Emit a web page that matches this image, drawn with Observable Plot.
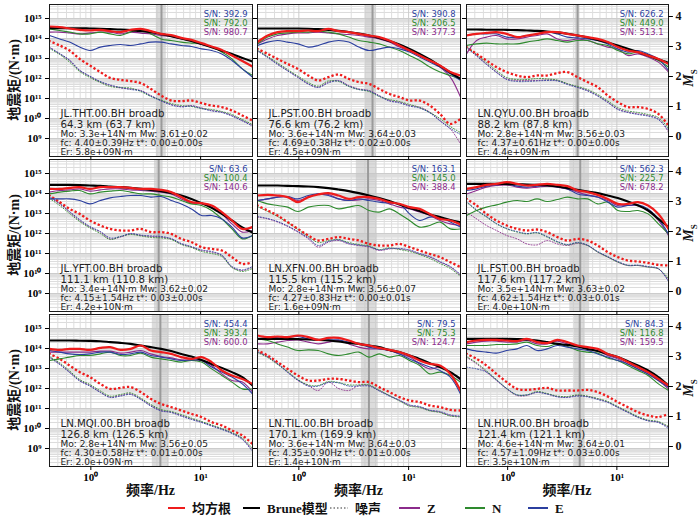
<!DOCTYPE html>
<html><head><meta charset="utf-8">
<script src="https://cdn.jsdelivr.net/npm/d3@7"></script>
<script src="https://cdn.jsdelivr.net/npm/@observablehq/plot@0.6"></script>
<style>
html,body{margin:0;padding:0;background:#fff;}
#chart{position:relative;width:700px;height:518px;overflow:hidden;font-family:"DejaVu Sans";}
#chart svg{position:absolute;}
.lab{position:absolute;font-family:"Liberation Serif","Noto Sans CJK SC";font-weight:bold;font-size:13px;color:#111;white-space:nowrap;}
</style></head><body><div id="chart"></div><script>
// ---------- data ----------
const freqs = [0.42,0.52,0.64,0.79,0.98,1.22,1.5,1.86,2.3,2.85,3.52,4.36,5.39,6.67,8.25,10.2,12.6,15.6,19.3,24.0,29.7];

const stations = ["JL.THT.00.BH broadb","JL.PST.00.BH broadb","LN.QYU.00.BH broadb","JL.YFT.00.BH broadb","LN.XFN.00.BH broadb","JL.FST.00.BH broadb","LN.MQI.00.BH broadb","LN.TIL.00.BH broadb","LN.HUR.00.BH broadb"];
const distances = ["64.3 km (63.7 km)","76.6 km (76.2 km)","88.2 km (87.8 km)","111.1 km (110.8 km)","115.5 km (115.2 km)","117.6 km (117.2 km)","126.8 km (126.5 km)","170.1 km (169.9 km)","121.4 km (121.1 km)"];
const moText = ["Mo: 3.3e+14N·m Mw: 3.61±0.02","Mo: 3.6e+14N·m Mw: 3.64±0.03","Mo: 2.8e+14N·m Mw: 3.56±0.03","Mo: 3.4e+14N·m Mw: 3.62±0.02","Mo: 2.8e+14N·m Mw: 3.56±0.07","Mo: 3.5e+14N·m Mw: 3.63±0.02","Mo: 2.8e+14N·m Mw: 3.56±0.05","Mo: 3.6e+14N·m Mw: 3.64±0.03","Mo: 4.6e+14N·m Mw: 3.64±0.01"];
const fcText = ["fc: 4.40±0.39Hz t*: 0.00±0.00s","fc: 4.69±0.38Hz t*: 0.02±0.00s","fc: 4.37±0.61Hz t*: 0.00±0.00s","fc: 4.15±1.54Hz t*: 0.03±0.00s","fc: 4.27±0.83Hz t*: 0.00±0.01s","fc: 4.62±1.54Hz t*: 0.03±0.01s","fc: 4.30±0.58Hz t*: 0.01±0.00s","fc: 4.35±0.90Hz t*: 0.01±0.00s","fc: 4.57±1.09Hz t*: 0.03±0.00s"];
const erText = ["Er: 5.8e+09N·m","Er: 4.5e+09N·m","Er: 4.4e+09N·m","Er: 4.2e+10N·m","Er: 1.6e+09N·m","Er: 4.0e+10N·m","Er: 2.0e+09N·m","Er: 1.4e+10N·m","Er: 3.5e+10N·m"];
const snE = ["392.9","390.8","626.2","63.6","163.1","562.3","454.4","79.5","84.3"];
const snN = ["792.0","206.5","449.0","100.4","145.0","225.7","393.4","75.3","116.8"];
const snZ = ["980.7","377.3","513.1","140.6","388.4","678.2","600.0","124.7","159.5"];
const fcValues = [4.40,4.69,4.37,4.15,4.27,4.62,4.30,4.35,4.57];
const bandLo = [3.95,4.03,4.15,3.8,3.34,3.71,3.63,3.71,4.1];
const bandHi = [4.87,5.07,4.6,4.55,5.18,5.63,5.18,5.29,5.1];

// log10 of seismic moment (N·m), one row per panel
const rmsLog = [
[14.6,14.57,14.5,14.43,14.4,14.43,14.37,14.32,14.43,14.48,14.37,14.23,14.17,14.03,13.93,13.77,13.6,13.43,13.15,12.87,12.6],
[13.82,14.15,14.32,14.37,14.37,14.4,14.37,14.48,14.37,14.32,14.23,14.15,14.07,13.9,13.65,13.4,13.15,12.9,12.65,12.32,12.15],
[14.15,14.23,14.28,14.32,14.23,14.07,14.15,14.23,14.32,14.32,14.23,14.15,14.07,13.98,13.82,13.57,13.4,13.32,13.15,12.98,12.73],
[14.23,14.23,14.28,14.32,14.23,14.32,14.32,14.32,14.28,14.23,14.23,14.18,14.07,13.82,13.57,13.52,13.4,13.07,12.65,12.23,12.32],
[13.9,13.93,13.9,13.82,13.57,13.82,13.95,14.02,13.9,13.73,13.82,13.82,13.73,13.57,13.48,13.32,13.23,12.98,12.73,12.65,12.45],
[14.23,14.32,14.43,14.48,14.57,14.48,14.4,14.43,14.48,14.43,14.37,14.15,14.07,13.93,13.73,13.48,13.48,13.57,13.4,12.98,12.23],
[13.98,13.93,13.98,13.98,13.93,14.03,14.07,13.93,13.98,14.15,13.9,13.82,13.73,13.57,13.48,13.57,13.32,12.9,12.65,12.48,12.23],
[14.65,14.57,14.6,14.57,14.65,14.57,14.43,14.53,14.53,14.4,14.23,14.15,14.03,13.93,13.82,13.65,13.4,13.23,13.15,12.73,11.9],
[14.32,14.4,14.43,14.43,14.4,14.37,14.48,14.32,14.27,14.43,14.32,14.15,14.07,13.98,13.73,13.57,13.32,13.07,12.82,12.48,12.15]];
const zLog = [
[14.32,14.32,14.28,14.23,14.28,14.32,14.32,14.23,14.32,14.27,14.23,14.15,14.1,13.98,13.87,13.7,13.57,13.4,13.15,12.9,12.57],
[13.73,13.98,14.15,14.23,14.28,14.28,14.32,14.28,14.23,14.2,14.15,14.07,13.98,13.82,13.57,13.37,13.15,12.9,12.57,12.07,11.07],
[13.23,13.9,14.07,14.15,13.98,13.98,14.07,14.15,14.23,13.98,13.9,13.98,13.9,13.73,13.57,13.48,13.15,13.23,13.07,12.82,12.32],
[14.07,14.15,14.18,14.23,14.12,14.18,14.23,14.23,14.18,14.15,14.12,14.07,13.98,13.73,13.52,13.48,13.32,12.98,12.48,12.07,12.15],
[13.65,13.73,13.82,13.82,13.65,13.82,13.98,13.95,13.73,13.65,13.68,13.73,13.65,13.48,13.32,13.23,13.07,12.9,12.65,12.48,12.4],
[13.98,14.15,14.32,14.4,14.43,14.32,14.27,14.32,14.37,14.32,14.23,14.07,13.93,13.82,13.65,13.4,13.4,13.4,13.15,12.65,11.9],
[13.82,13.82,13.82,13.82,13.82,13.87,13.87,13.77,13.82,13.9,13.73,13.6,13.53,13.43,13.4,13.4,13.15,12.73,12.4,12.32,11.82],
[14.23,14.23,14.32,14.4,14.43,14.32,14.23,14.32,14.4,14.23,14.07,13.98,13.98,13.9,13.73,13.57,13.23,12.98,13.07,12.82,12.4],
[14.23,14.32,14.37,14.37,14.32,14.32,14.4,14.23,14.23,14.37,14.23,14.1,13.98,13.87,13.65,13.48,13.23,12.98,12.73,12.4,11.98]];
const nLog = [
[14.48,14.4,14.32,14.23,14.23,14.32,14.23,14.15,14.32,14.43,14.23,13.98,13.9,13.82,13.77,13.73,13.57,13.32,12.98,12.48,12.15],
[13.73,14.07,14.23,14.28,14.32,14.32,14.37,14.32,14.23,14.07,13.9,13.82,13.73,13.57,13.4,13.15,12.9,12.57,12.32,12.15,11.98],
[13.65,13.73,13.77,13.73,13.73,13.73,13.82,13.9,13.98,13.9,13.82,13.9,13.9,13.73,13.65,13.4,13.23,13.32,13.15,12.9,12.57],
[13.98,14.07,14.12,14.15,13.98,14.07,14.12,14.15,14.07,13.98,13.98,13.9,13.82,13.65,13.48,13.4,13.15,12.73,12.23,11.73,11.9],
[13.65,13.48,13.4,13.32,13.1,13.32,13.4,13.4,13.23,13.32,13.4,13.15,13.07,13.23,12.98,12.65,12.32,12.4,12.57,12.23,12.23],
[12.9,13.15,13.32,13.43,13.57,13.65,13.6,13.73,13.6,13.7,13.82,13.73,13.73,13.48,13.57,13.15,13.1,13.15,12.98,12.48,11.98],
[13.4,13.48,13.57,13.65,13.65,13.73,13.82,13.65,13.65,13.77,13.57,13.48,13.4,13.32,13.4,13.32,12.98,12.65,12.32,11.98,11.98],
[14.48,14.4,14.23,14.07,13.9,13.93,13.9,13.73,13.65,13.73,13.82,13.57,13.73,13.57,13.65,13.4,13.15,12.73,12.82,12.65,12.32],
[14.15,14.15,14.15,14.2,14.2,14.23,14.32,14.15,14.1,14.23,14.1,13.9,13.82,13.77,13.53,13.4,13.15,12.9,12.65,12.23,11.9]];
const eLog = [
[14.15,13.98,13.82,13.57,13.4,13.57,13.65,13.7,13.65,13.73,13.82,13.82,13.73,13.65,13.6,13.48,13.4,13.23,12.9,12.48,12.07],
[13.65,13.82,13.9,13.82,13.73,13.57,13.65,13.82,13.9,13.82,13.57,13.4,13.48,13.57,13.48,13.32,13.07,12.82,12.57,12.23,11.9],
[14.15,14.23,14.23,14.23,14.07,14.07,14.15,14.23,14.32,14.23,14.07,14.03,13.98,13.9,13.73,13.48,13.32,13.4,13.23,12.98,12.4],
[13.73,13.73,13.73,13.65,13.48,13.65,13.78,13.85,13.9,13.9,13.82,13.85,13.65,13.48,13.23,12.9,12.9,12.73,12.32,11.78,11.9],
[13.65,13.73,13.82,13.85,13.73,13.9,13.98,13.9,13.73,13.65,13.73,13.65,13.57,13.52,13.48,12.98,12.65,12.82,12.82,12.57,12.32],
[14.15,14.23,14.37,14.43,14.48,14.37,14.32,14.37,14.4,14.32,14.23,13.98,13.9,13.82,13.57,13.32,13.4,13.43,13.23,12.73,11.98],
[13.9,13.82,13.73,13.7,13.73,13.82,13.82,13.7,13.73,13.82,13.65,13.57,13.48,13.4,13.43,13.4,13.07,12.82,12.57,12.23,11.73],
[14.48,14.53,14.57,14.57,14.6,14.48,14.4,14.43,14.43,14.32,14.23,14.07,13.98,13.9,13.73,13.48,13.27,13.07,12.9,12.57,11.73],
[13.98,13.87,13.82,13.77,13.9,13.98,14.15,13.9,13.98,14.15,14.07,13.98,13.9,13.73,13.57,13.4,13.23,12.98,12.73,12.4,12.07]];
const bruneLog = [
[14.52,14.51,14.51,14.51,14.5,14.49,14.47,14.45,14.42,14.37,14.31,14.22,14.12,14.0,13.87,13.72,13.56,13.39,13.22,13.03,12.85],
[14.5,14.5,14.5,14.5,14.5,14.49,14.47,14.43,14.38,14.32,14.25,14.15,14.03,13.88,13.7,13.48,13.23,12.95,12.63,12.3,11.98],
[14.45,14.45,14.44,14.44,14.43,14.42,14.4,14.38,14.35,14.3,14.24,14.15,14.05,13.93,13.8,13.65,13.49,13.32,13.15,12.96,12.78],
[14.43,14.43,14.43,14.42,14.4,14.38,14.35,14.32,14.28,14.23,14.18,14.12,14.02,13.9,13.73,13.52,13.28,12.98,12.65,12.3,12.05],
[14.4,14.4,14.4,14.38,14.37,14.35,14.32,14.27,14.2,14.12,14.02,13.9,13.77,13.62,13.45,13.28,13.12,12.95,12.82,12.68,12.57],
[14.48,14.48,14.48,14.48,14.47,14.46,14.45,14.43,14.4,14.35,14.27,14.18,14.1,14.02,13.9,13.77,13.6,13.4,13.15,12.73,12.32],
[14.4,14.4,14.4,14.39,14.38,14.36,14.32,14.28,14.23,14.15,14.07,13.98,13.87,13.73,13.6,13.43,13.23,13.03,12.82,12.57,12.15],
[14.48,14.48,14.48,14.48,14.47,14.45,14.43,14.4,14.35,14.28,14.23,14.15,14.07,13.93,13.82,13.65,13.48,13.27,13.07,12.82,12.48],
[14.48,14.48,14.48,14.48,14.48,14.47,14.45,14.4,14.32,14.23,14.18,14.1,13.98,13.87,13.73,13.57,13.37,13.15,12.9,12.57,12.15]];
const noiseRmsLog = [
[13.87,13.65,13.4,12.98,12.65,12.32,12.03,11.93,11.87,11.77,11.48,11.15,10.9,10.87,10.9,10.77,10.65,10.57,10.4,10.15,9.9],
[13.48,13.23,12.98,12.73,12.48,12.15,11.9,12.07,12.2,11.98,11.82,11.73,11.48,11.23,11.07,10.9,10.9,10.65,10.23,9.73,9.98],
[13.57,13.23,12.9,12.57,12.32,12.15,12.07,12.15,12.15,12.27,12.32,12.07,11.82,11.57,11.15,10.82,10.57,10.57,10.48,10.23,9.65],
[13.9,13.57,13.23,12.98,12.65,12.4,12.23,12.15,12.15,12.23,12.07,12.07,11.98,11.73,11.57,11.32,11.23,11.15,10.82,10.48,10.57],
[13.4,13.15,12.9,12.57,12.23,11.9,11.65,11.73,11.82,11.73,11.65,11.48,11.4,11.4,11.48,11.32,11.15,10.98,10.82,10.57,10.32],
[13.73,13.4,12.98,12.65,12.4,12.23,12.15,12.2,12.07,11.82,11.65,11.73,11.65,11.4,11.07,10.82,10.65,10.6,10.53,10.43,10.4],
[13.73,13.48,13.15,12.82,12.57,12.23,11.98,12.03,12.07,11.82,11.48,11.23,11.07,10.9,10.73,10.57,10.32,10.15,9.9,9.65,9.23],
[13.9,13.65,13.32,12.98,12.65,12.4,12.4,12.48,12.48,12.4,12.32,12.32,12.07,11.82,11.57,11.4,11.32,11.15,11.07,10.93,10.9],
[13.73,13.48,13.15,12.73,12.32,11.98,11.93,11.98,12.03,11.9,11.9,11.9,11.93,11.82,11.6,11.32,11.07,10.82,10.65,10.57,10.73]];
const noiseZLog = [
[13.57,13.23,12.9,12.4,12.1,11.82,11.65,11.53,11.48,11.4,11.15,10.9,10.7,10.6,10.65,10.53,10.4,10.32,10.15,9.9,9.65],
[13.4,13.07,12.73,12.4,12.07,11.73,11.57,11.82,11.9,11.65,11.48,11.4,11.15,10.9,10.82,10.65,10.57,10.32,9.9,9.48,8.73],
[13.57,13.15,12.73,12.32,11.98,11.9,11.9,11.9,11.93,11.9,11.73,11.57,11.4,11.15,10.82,10.48,10.32,10.23,10.15,9.98,9.32],
[13.82,13.48,13.07,12.65,12.32,12.07,11.73,11.82,11.98,11.9,11.85,11.82,11.73,11.48,11.32,11.15,11.07,10.9,10.32,10.15,10.32],
[12.82,12.73,12.57,12.35,12.07,11.73,11.32,11.57,11.65,11.48,11.4,11.32,11.15,11.23,11.23,11.15,10.98,10.82,10.57,10.32,9.9],
[13.07,12.73,12.4,12.15,11.9,11.73,11.48,11.43,11.65,11.48,11.4,11.5,11.4,11.07,10.82,10.57,10.4,10.4,10.32,10.23,9.65],
[13.57,13.23,12.82,12.4,12.15,11.82,11.57,11.65,11.73,11.48,11.15,10.9,10.82,10.65,10.48,10.32,10.15,9.98,9.77,9.48,8.9],
[13.82,13.57,13.23,12.82,12.4,12.15,11.9,12.32,12.0,11.9,12.15,12.15,11.9,11.65,11.4,11.15,11.07,10.9,10.82,10.65,10.6],
[13.57,13.23,12.82,12.4,11.98,11.65,11.65,11.82,11.73,11.6,11.57,11.65,11.6,11.48,11.32,11.07,10.82,10.57,10.4,10.32,10.07]];
const noiseNLog = [
[13.5,13.2,12.82,12.35,12.05,11.8,11.6,11.55,11.52,11.35,11.1,10.92,10.75,10.65,10.6,10.5,10.45,10.35,10.2,9.95,9.7],
[13.42,13.1,12.78,12.45,12.12,11.8,11.62,11.88,11.85,11.6,11.45,11.35,11.1,10.95,10.85,10.7,10.55,10.3,10.0,9.6,9.3],
[13.6,13.2,12.8,12.4,12.05,11.95,11.95,12.0,11.98,11.92,11.75,11.6,11.45,11.2,10.88,10.55,10.38,10.3,10.2,10.05,9.5],
[13.75,13.4,13.0,12.6,12.28,12.0,11.7,11.85,11.95,11.88,11.8,11.78,11.7,11.45,11.3,11.1,11.0,10.85,10.3,10.1,10.25],
[13.35,13.1,12.85,12.55,12.2,11.85,11.55,11.65,11.7,11.55,11.45,11.38,11.2,11.28,11.2,11.1,10.95,10.75,10.5,10.25,9.85],
[13.57,13.15,12.82,12.48,12.23,12.07,11.98,12.03,11.82,11.57,11.43,11.53,11.4,11.07,10.82,10.57,10.4,10.4,10.32,10.23,9.75],
[13.6,13.28,12.88,12.45,12.2,11.88,11.62,11.7,11.78,11.52,11.2,10.95,10.85,10.7,10.52,10.35,10.18,10.0,9.8,9.52,9.0],
[13.8,13.55,13.2,12.85,12.45,12.18,12.15,12.35,12.3,12.18,12.18,12.18,11.92,11.65,11.38,11.12,11.05,10.88,10.8,10.62,10.58],
[13.6,13.28,12.88,12.45,12.0,11.68,11.68,11.85,11.75,11.62,11.6,11.68,11.62,11.5,11.35,11.1,10.85,10.6,10.42,10.35,10.1]];
const noiseELog = [
[13.55,13.25,12.92,12.42,12.12,11.85,11.68,11.55,11.45,11.38,11.12,10.88,10.68,10.58,10.62,10.5,10.38,10.3,10.12,9.88,9.62],
[13.38,13.05,12.7,12.38,12.05,11.72,11.55,11.78,11.88,11.62,11.45,11.38,11.12,10.88,10.78,10.62,10.52,10.28,9.88,9.5,9.2],
[13.55,13.12,12.7,12.3,11.95,11.85,11.85,11.88,11.9,11.88,11.7,11.55,11.38,11.12,10.8,10.45,10.3,10.2,10.12,9.95,9.4],
[13.85,13.5,13.1,12.7,12.35,12.1,11.78,11.85,12.0,11.92,11.88,11.85,11.75,11.5,11.35,11.18,11.1,10.92,10.35,10.18,10.35],
[12.85,12.75,12.6,12.38,12.1,11.78,11.4,11.6,11.68,11.5,11.42,11.35,11.18,11.25,11.25,11.18,11.0,10.85,10.6,10.35,9.95],
[13.6,13.18,12.85,12.5,12.25,12.1,12.0,12.05,11.85,11.6,11.45,11.55,11.42,11.1,10.85,10.6,10.42,10.42,10.35,10.25,9.6],
[13.55,13.2,12.8,12.38,12.12,11.8,11.55,11.62,11.7,11.45,11.12,10.88,10.8,10.62,10.45,10.3,10.12,9.95,9.75,9.45,8.85],
[13.85,13.6,13.25,12.8,12.42,12.12,12.12,12.3,12.28,12.12,12.12,12.12,11.88,11.62,11.42,11.18,11.1,10.92,10.85,10.68,10.62],
[13.07,12.98,12.82,12.42,12.0,11.68,11.68,11.8,11.72,11.58,11.55,11.62,11.58,11.45,11.3,11.05,10.8,10.55,10.38,10.3,10.0]];

const msTicks = [0,1,2,3,4];
const legendLabels = ["均方根","Brune模型","噪声","Z","N","E"];

// ---------- styling / layout ----------
const cRms="#ee1c1c", cBrune="#000000", cZ="#8b2b8b", cN="#2e8a2e", cE="#2b3f9f";
const colLeft=[49,257,466], colWidth=[203,203,202], rowTop=[4,159,314], panelH=152;
const xDomain=[0.42,29.7], yDomain=[10**8.1,10**15.7];
const sup={"0":"⁰","1":"¹","2":"²","3":"³","4":"⁴","5":"⁵","6":"⁶","7":"⁷","8":"⁸","9":"⁹"};
const pow10 = d => "10" + String(Math.round(Math.log10(d))).split("").map(c=>sup[c]).join("");
const decadesY = d3.range(9,16).map(e=>10**e);
const minorY = d3.range(8,16).flatMap(e=>d3.range(2,10).map(k=>k*10**e)).filter(v=>v>yDomain[0]&&v<yDomain[1]);
const decadesX = [1,10];
const minorX = [0.5,0.6,0.7,0.8,0.9,2,3,4,5,6,7,8,9,20];
const msRows = msTicks.map(m=>({m, v:10**(1.5*m+9.1)}));
const tickShape = {draw(ctx, l){ ctx.moveTo(0,0); ctx.lineTo(0,-l); }};

const chart = document.getElementById("chart");
const series = (arr) => freqs.map((f,k)=>({f, m: 10**arr[k]}));

for (let i=0;i<9;i++){
  const r=Math.floor(i/3), c=i%3;
  const ml=50, mr=36, mt=6, mb=26;
  const W=colWidth[c];
  const lineOpts = (stroke, w, extra={}) => Object.assign({x:"f", y:"m", stroke, strokeWidth:w, curve:"catmull-rom", clip:true}, extra);
  const marks = [
    Plot.ruleY(minorY, {stroke:"#dcdcdc", strokeWidth:1}),
    Plot.ruleX(minorX, {stroke:"#dedede", strokeWidth:1}),
    Plot.ruleY(decadesY, {stroke:"#cccccc", strokeWidth:1}),
    Plot.ruleX(decadesX, {stroke:"#cccccc", strokeWidth:1}),
    Plot.rect([{lo:bandLo[i], hi:bandHi[i]}], {x1:"lo", x2:"hi", fill:"#c4c4c4", fillOpacity:0.6}),
    Plot.ruleX([fcValues[i]], {stroke:"#9b9b9b", strokeWidth:2}),
    Plot.line(series(noiseZLog[i]), lineOpts(cZ, 0.9, {strokeDasharray:"1,1.8"})),
    Plot.line(series(noiseNLog[i]), lineOpts(cN, 0.9, {strokeDasharray:"1,1.8"})),
    Plot.line(series(noiseELog[i]), lineOpts(cE, 0.9, {strokeDasharray:"1,1.8"})),
    Plot.line(series(noiseRmsLog[i]), lineOpts(cRms, 2.3, {strokeDasharray:"0.01,4.4", strokeLinecap:"square"})),
    Plot.line(series(zLog[i]), lineOpts(cZ, 1.1)),
    Plot.line(series(nLog[i]), lineOpts(cN, 1.1)),
    Plot.line(series(eLog[i]), lineOpts(cE, 1.1)),
    Plot.line(series(bruneLog[i]), lineOpts(cBrune, 2.1)),
    Plot.line(series(rmsLog[i]), lineOpts(cRms, 2.2)),
    Plot.text([stations[i]], {text:d=>d, frameAnchor:"bottom-left", dx:11, dy:-43, textAnchor:"start", lineAnchor:"middle", fontSize:10.2, fill:"#222"}),
    Plot.text([distances[i]], {text:d=>d, frameAnchor:"bottom-left", dx:11, dy:-32, textAnchor:"start", lineAnchor:"middle", fontSize:10.2, fill:"#222"}),
    Plot.text([moText[i]], {text:d=>d, frameAnchor:"bottom-left", dx:11, dy:-22, textAnchor:"start", lineAnchor:"middle", fontSize:9, fill:"#222"}),
    Plot.text([fcText[i]], {text:d=>d, frameAnchor:"bottom-left", dx:11, dy:-13, textAnchor:"start", lineAnchor:"middle", fontSize:9, fill:"#222"}),
    Plot.text([erText[i]], {text:d=>d, frameAnchor:"bottom-left", dx:11, dy:-4, textAnchor:"start", lineAnchor:"middle", fontSize:9, fill:"#222"}),
    Plot.text(["S/N: "+snE[i]], {text:d=>d, frameAnchor:"top-right", dx:-5, dy:10, textAnchor:"end", lineAnchor:"middle", fontSize:8.4, fill:cE}),
    Plot.text(["S/N: "+snN[i]], {text:d=>d, frameAnchor:"top-right", dx:-5, dy:19, textAnchor:"end", lineAnchor:"middle", fontSize:8.4, fill:cN}),
    Plot.text(["S/N: "+snZ[i]], {text:d=>d, frameAnchor:"top-right", dx:-5, dy:28, textAnchor:"end", lineAnchor:"middle", fontSize:8.4, fill:cZ}),
    Plot.frame({stroke:"#1a1a1a", strokeWidth:1}),
    Plot.axisY(decadesY, {anchor:"left", tickSize:4, tickPadding:4, label:null, tickFormat: c===0 ? pow10 : ()=>"", fontFamily:"Liberation Serif", fontWeight:"bold", fontSize:11}),
    Plot.axisX(decadesX, {anchor:"bottom", tickSize:4, tickPadding:3, label:null, tickFormat: r===2 ? pow10 : ()=>"", fontFamily:"Liberation Serif", fontWeight:"bold", fontSize:11})
  ];
  if (c===2) {
    // magnitude (Ms) axis on the right, Mo = 10^(1.5·M + 9.1)
    marks.push(Plot.vector(msRows, {frameAnchor:"right", y:"v", length:4, rotate:90, anchor:"start", shape:tickShape, stroke:"#000", strokeWidth:1}));
    marks.push(Plot.text(msRows, {frameAnchor:"right", y:"v", text:d=>String(d.m), dx:7, textAnchor:"start", lineAnchor:"middle", fontFamily:"Liberation Serif", fontWeight:"bold", fontSize:12, fill:"#111"}));
  }
  const svg = Plot.plot({
    width: W+ml+mr, height: panelH+mt+mb,
    marginLeft: ml, marginRight: mr, marginTop: mt, marginBottom: mb,
    style: {background:"transparent", overflow:"visible", fontFamily:"DejaVu Sans", maxWidth:"none"},
    x: {type:"log", domain:xDomain},
    y: {type:"log", domain:yDomain},
    marks
  });
  svg.style.left = (colLeft[c]-ml)+"px";
  svg.style.top = (rowTop[r]-mt)+"px";
  chart.appendChild(svg);
}

// ---------- axis titles ----------
function addLabel(html, x, y, rot, extra="") {
  const d=document.createElement("div");
  d.className="lab"; d.innerHTML=html;
  d.style.left=x+"px"; d.style.top=y+"px";
  d.style.transform=`translate(-50%,-50%)${rot?" rotate(-90deg)":""}`;
  if (extra) d.style.cssText += extra;
  chart.appendChild(d);
}
for (let r=0;r<3;r++){
  const cy=rowTop[r]+panelH/2;
  addLabel("地震矩/(N·m)", 13, cy, true, "font-family:'Liberation Serif','Noto Sans CJK SC';font-weight:bold;font-size:14px;");
  addLabel("<i>M</i><sub style='font-size:9px;font-style:normal'>S</sub>", 690, cy-2, true, "font-size:14px;");
}
for (let c=0;c<3;c++){
  addLabel("频率/Hz", colLeft[c]+colWidth[c]/2, 489, false, "font-family:'Liberation Serif','Noto Sans CJK SC';font-size:14px;");
}

// ---------- legend ----------
const legendColors=[cRms,cBrune,"#777",cZ,cN,cE];
const legendX=[168,243,330,399,465,528];
const legendW=[17,17,18,21,20,20];
const lg = d3.create("svg").attr("width",700).attr("height",30).style("left","0px").style("top","494px");
legendLabels.forEach((t,k)=>{
  lg.append("line").attr("x1",legendX[k]).attr("x2",legendX[k]+legendW[k]).attr("y1",14).attr("y2",14)
    .attr("stroke",legendColors[k]).attr("stroke-width",k===2?1.3:2).attr("stroke-dasharray",k===2?"1.5,2":null);
  lg.append("text").attr("x",legendX[k]+legendW[k]+7).attr("y",18.5).text(t)
    .attr("font-family","'Liberation Serif','Noto Sans CJK SC'").attr("font-weight","bold").attr("font-size",13).attr("fill","#111");
});
chart.appendChild(lg.node());
</script></body></html>
